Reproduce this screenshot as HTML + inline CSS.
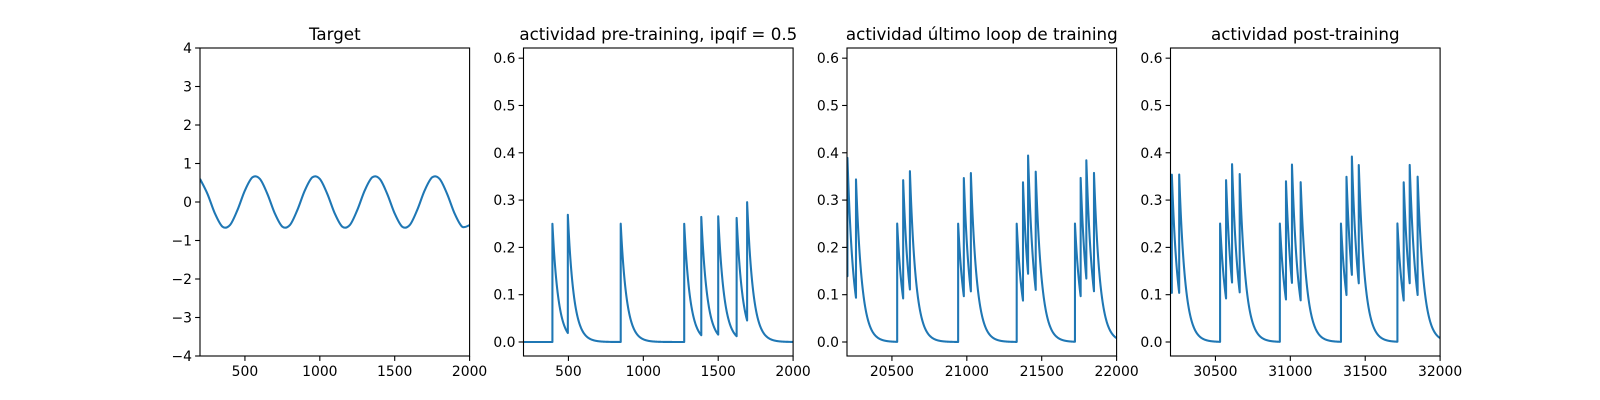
<!DOCTYPE html>
<html><head><meta charset="utf-8"><style>
html,body{margin:0;padding:0;background:#fff}
svg{display:block;font-family:"DejaVu Sans","Liberation Sans",sans-serif}
</style></head><body>
<svg id="fig" width="1600" height="400" viewBox="0 0 1600 400" xmlns="http://www.w3.org/2000/svg"></svg>
<script>
// ---- data ----
const targetX = [200,250,300,350,400,450,500,550,600,650,700,750,800,850,900,950,1000,1050,1100,1150,1200,1250,1300,1350,1400,1450,1500,1550,1600,1650,1700,1750,1800,1850,1900,1950,2000];
const targetY = [0.60,0.21,-0.30,-0.64,-0.60,-0.21,0.30,0.64,0.60,0.21,-0.30,-0.64,-0.60,-0.21,0.30,0.64,0.60,0.21,-0.30,-0.64,-0.60,-0.21,0.30,0.64,0.60,0.21,-0.30,-0.64,-0.60,-0.21,0.30,0.64,0.60,0.21,-0.30,-0.64,-0.60];
const preSpikes = [393,496,849,1273,1387,1500,1623,1693];
const preInit = 0;
const lastSpikes = [20203,20260,20535,20575,20620,20942,20980,21027,21333,21375,21409,21460,21722,21760,21798,21849];
const lastInit = 0.15;
const postSpikes = [30209,30258,30531,30571,30611,30662,30930,30971,31011,31069,31338,31375,31411,31457,31715,31757,31797,31850];
const postInit = 0.13;
const spikeJump = 0.25;
const decayTau = 40;
const titles = ["Target","actividad pre-training, ipqif = 0.5","actividad último loop de training","actividad post-training"];
const xTicks1 = [500,1000,1500,2000];
const xTicks3 = [20500,21000,21500,22000];
const xTicks4 = [30500,31000,31500,32000];
const yTicksTarget = [-4,-3,-2,-1,0,1,2,3,4];
const yTicksAct = [0.0,0.1,0.2,0.3,0.4,0.5,0.6];

const NS="http://www.w3.org/2000/svg";
const svg=document.getElementById('fig');
function mk(tag,attrs,parent){const e=document.createElementNS(NS,tag);for(const k in attrs)e.setAttribute(k,attrs[k]);(parent||svg).appendChild(e);return e;}

const W=269.6,GAP=53.9,L0=200,TOP=48,BOT=356;
const panels=[
 {name:'target',xmin:200,xmax:2000,ymin:-4,ymax:4,xt:xTicks1,yt:yTicksTarget,yfmt:v=>v<0?'\u2212'+Math.abs(v):''+v},
 {name:'pre-training',xmin:200,xmax:2000,ymin:-0.0296,ymax:0.6215,xt:xTicks1,yt:yTicksAct,yfmt:v=>v.toFixed(1),spikes:preSpikes,init:preInit},
 {name:'last-loop',xmin:20200,xmax:22000,ymin:-0.0296,ymax:0.6215,xt:xTicks3,yt:yTicksAct,yfmt:v=>v.toFixed(1),spikes:lastSpikes,init:lastInit},
 {name:'post-training',xmin:30200,xmax:32000,ymin:-0.0296,ymax:0.6215,xt:xTicks4,yt:yTicksAct,yfmt:v=>v.toFixed(1),spikes:postSpikes,init:postInit}
];

function spikeTrace(spikes,init,xmin,xmax){
  const pts=[];let v=init,t=xmin;pts.push([t,v]);
  let si=0;
  for(let x=xmin+1;x<=xmax;x++){
    v*=Math.exp(-1/decayTau);
    while(si<spikes.length&&spikes[si]<=x){pts.push([x,v]);v+=spikeJump;si++;}
    pts.push([x,v]);
  }
  return pts;
}

panels.forEach((p,i)=>{
  const left=L0+i*(W+GAP),right=left+W;
  const g=mk('g',{});
  
  
  const sx=x=>left+(x-p.xmin)/(p.xmax-p.xmin)*W;
  const sy=y=>BOT-(y-p.ymin)/(p.ymax-p.ymin)*(BOT-TOP);
  // clip
  const cp=mk('clipPath',{id:'clip'+i},g);
  mk('rect',{x:left,y:TOP,width:W,height:BOT-TOP},cp);
  // series
  let pts;
  if(i===0){pts=targetX.map((x,k)=>[x,targetY[k]]);
    // smooth via catmull-rom
    let d='M'+sx(pts[0][0])+','+sy(pts[0][1]);
    for(let k=0;k<pts.length-1;k++){
      const p0=pts[Math.max(0,k-1)],p1=pts[k],p2=pts[k+1],p3=pts[Math.min(pts.length-1,k+2)];
      const c1x=sx(p1[0])+(sx(p2[0])-sx(p0[0]))/6,c1y=sy(p1[1])+(sy(p2[1])-sy(p0[1]))/6;
      const c2x=sx(p2[0])-(sx(p3[0])-sx(p1[0]))/6,c2y=sy(p2[1])-(sy(p3[1])-sy(p1[1]))/6;
      d+=' C'+c1x+','+c1y+' '+c2x+','+c2y+' '+sx(p2[0])+','+sy(p2[1]);
    }
    const ln=mk('path',{d:d,fill:'none',stroke:'#1f77b4','stroke-width':2.08,'clip-path':'url(#clip0)'},g);
    
    
  } else {
    pts=spikeTrace(p.spikes,p.init,p.xmin,p.xmax);
    const ln=mk('polyline',{points:pts.map(q=>sx(q[0]).toFixed(2)+','+sy(q[1]).toFixed(2)).join(' '),fill:'none',stroke:'#1f77b4','stroke-width':2.08,'stroke-linejoin':'round','clip-path':'url(#clip'+i+')'},g);
    
    
  }
  // frame
  const fr=mk('rect',{x:left,y:TOP,width:W,height:BOT-TOP,fill:'none',stroke:'#000','stroke-width':1.1},g);
  
  
  // x ticks
  p.xt.forEach(v=>{
    const x=sx(v);
    mk('line',{x1:x,x2:x,y1:BOT,y2:BOT+4.9,stroke:'#000','stroke-width':1.1},g);
    const t=mk('text',{x:x,y:BOT+20,'text-anchor':'middle','font-size':13.9,fill:'#000'},g);
    t.textContent=v;
    
    
  });
  p.yt.forEach(v=>{
    const y=sy(v);
    mk('line',{x1:left,x2:left-4.9,y1:y,y2:y,stroke:'#000','stroke-width':1.1},g);
    const t=mk('text',{x:left-8,y:y+5,'text-anchor':'end','font-size':13.9,fill:'#000'},g);
    t.textContent=p.yfmt(v);
    
    
  });
  const tt=mk('text',{x:left+W/2,y:TOP-8,'text-anchor':'middle','font-size':16.7,fill:'#000'},g);
  tt.textContent=titles[i];
  
  
});
</script>
</body></html>
